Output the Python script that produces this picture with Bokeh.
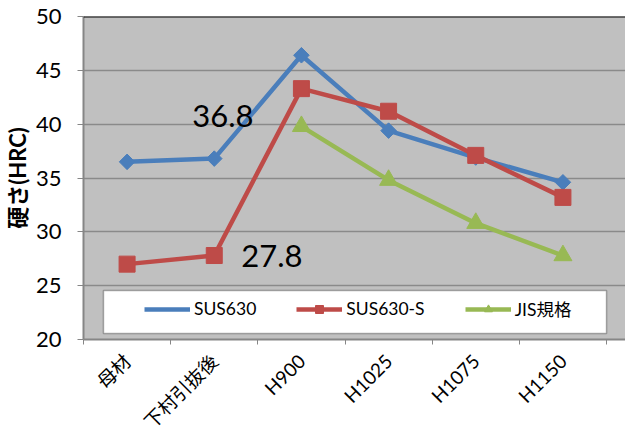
import math
from bokeh.plotting import figure
from bokeh.models import (Range1d, FixedTicker, Legend, LegendItem, BoxAnnotation,
                          Span, ColumnDataSource)
from bokeh.core.properties import value
from bokeh.embed import file_html
from bokeh.resources import INLINE

categories = ["母材", "下村引抜後", "H900", "H1025", "H1075", "H1150"]
sus630 = [36.5, 36.8, 46.4, 39.4, 36.9, 34.6]
sus630_s = [27.0, 27.8, 43.3, 41.2, 37.1, 33.2]
jis = [float("nan"), float("nan"), 39.8, 34.8, 30.8, 27.8]
y_ticks = [20, 25, 30, 35, 40, 45, 50]

FONT = "Lato, 'Noto Sans CJK JP', sans-serif"
BLUE = "#4a7ebb"
RED = "#be4b48"
GREEN = "#98b954"

xs = list(range(len(categories)))

p = figure(width=625, height=443, output_backend="svg", toolbar_location=None,
           x_range=Range1d(-0.5, -0.5 + 543 / 87.33), y_range=Range1d(20, 50),
           min_border_left=82, min_border_right=0, min_border_top=16,
           min_border_bottom=103)
p.background_fill_color = "#c0c0c0"
p.border_fill_color = "white"
p.outline_line_color = None

# axes
xa = p.xaxis[0]
xa.ticker = FixedTicker(ticks=xs, minor_ticks=[i - 0.5 for i in range(len(categories) + 1)])
xa.major_label_overrides = {i: c for i, c in enumerate(categories)}
xa.major_label_orientation = math.pi / 4
xa.major_tick_line_color = None
xa.major_tick_out = 0
xa.major_tick_in = 0
xa.minor_tick_line_color = "#868686"
xa.minor_tick_out = 5
xa.minor_tick_in = 0
xa.axis_line_color = "#868686"
xa.axis_line_width = 2
xa.major_label_text_font = FONT
xa.major_label_text_font_size = "19px"
xa.major_label_text_color = "black"
xa.major_label_standoff = 13

ya = p.yaxis[0]
ya.ticker = FixedTicker(ticks=y_ticks)
ya.minor_tick_line_color = None
ya.major_tick_line_color = "#868686"
ya.major_tick_out = 6
ya.major_tick_in = 0
ya.axis_line_color = "#868686"
ya.axis_line_width = 2
ya.major_label_text_font = FONT
ya.major_label_text_font_size = "22px"
ya.major_label_text_color = "black"
ya.major_label_standoff = 16
ya.axis_label = "硬さ(HRC)"
ya.axis_label_text_font = FONT
ya.axis_label_text_font_style = "bold"
ya.axis_label_text_font_size = "22px"
ya.axis_label_text_color = "black"
ya.axis_label_standoff = 2

p.xgrid.grid_line_color = None
p.ygrid.ticker = FixedTicker(ticks=y_ticks)
p.ygrid.grid_line_color = "#8a8a8a"
p.ygrid.grid_line_width = 1.5

p.add_layout(Span(location=50, dimension="width", line_color="black", line_width=2))

# legend box (white, black border)
p.add_layout(BoxAnnotation(left=(102 - 82) / 87.33 - 0.5, right=(606 - 82) / 87.33 - 0.5,
                           bottom=20.56, top=24.54, fill_color="white", fill_alpha=1,
                           line_color="black", line_width=1.5, level="underlay"))

# series
l1 = p.line(xs, sus630, line_color=BLUE, line_width=4.5)
m1 = p.scatter(xs, sus630, marker="square", angle=math.pi / 4, size=11,
               fill_color=BLUE, line_color=BLUE)
l2 = p.line(xs, sus630_s, line_color=RED, line_width=4.5)
m2 = p.scatter(xs, sus630_s, marker="square", size=16, fill_color=RED, line_color=RED)
l3 = p.line(xs, jis, line_color=GREEN, line_width=4.5)
m3 = p.scatter(xs, jis, marker="triangle", size=18, fill_color=GREEN, line_color=GREEN)

# legend-only marker (diamond shape in the key)
k1 = p.scatter([], [], marker="diamond", size=13, fill_color=BLUE, line_color=BLUE)

# value annotations
src1 = ColumnDataSource(dict(x=[xs[1]], y=[sus630[1]], t=[f"{sus630[1]:.1f}"]))
p.text(x="x", y="y", text="t", source=src1, text_font=value("Lato"), text_font_size="31px",
       text_color="black", text_align="left", text_baseline="middle",
       x_offset=-22, y_offset=-43)
src2 = ColumnDataSource(dict(x=[xs[1]], y=[sus630_s[1]], t=[f"{sus630_s[1]:.1f}"]))
p.text(x="x", y="y", text="t", source=src2, text_font=value("Lato"), text_font_size="31px",
       text_color="black", text_align="left", text_baseline="middle",
       x_offset=27, y_offset=0)

legend = Legend(items=[LegendItem(label="SUS630", renderers=[l1, k1]),
                       LegendItem(label="SUS630-S", renderers=[l2, m2]),
                       LegendItem(label="JIS規格", renderers=[l3, m3])],
                orientation="horizontal", location=(61, 18), spacing=40,
                glyph_width=46, glyph_height=20, label_standoff=4, padding=0, margin=0,
                background_fill_alpha=0, border_line_color=None,
                label_text_font=FONT, label_text_font_size="17.5px",
                label_text_color="black")
p.add_layout(legend, "center")

open("out.html", "w").write(file_html(p, INLINE))
